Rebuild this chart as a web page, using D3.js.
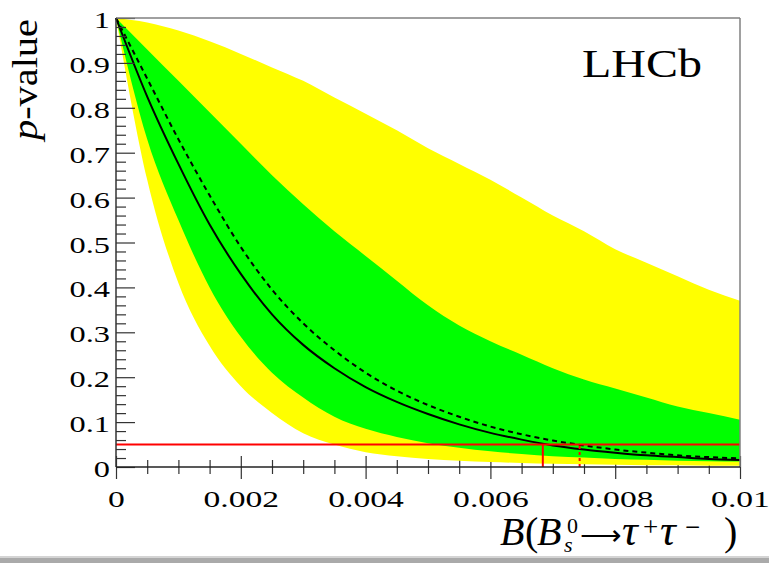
<!DOCTYPE html>
<meta charset="utf-8">
<style>
body {
  margin: 0;
  background: #fff;
}

.tick line {
  stroke: #333;
  stroke-width: 1.2;
}

.ticklabel {
  fill: #000;
  font-family: "Liberation Serif", serif;
  font-size: 24px;
}

.title {
  fill: #000;
  font-family: "Liberation Serif", serif;
}

.band-yellow {
  fill: #ffff00;
  stroke: none;
}

.band-green {
  fill: #00ff00;
  stroke: none;
}

.observed {
  fill: none;
  stroke: #000;
  stroke-width: 2;
}

.expected {
  fill: none;
  stroke: #000;
  stroke-width: 2;
  stroke-dasharray: 5,4;
}

.limit {
  stroke: #ff0000;
  stroke-width: 2;
}
</style>
<body>
  <div id="chart"></div>
</body>
<script src="https://cdn.jsdelivr.net/npm/d3@7"></script>
<script>

// branching fraction scan points
var bValues = [0, 0.0005, 0.001, 0.0015, 0.002, 0.0025, 0.003, 0.0035, 0.004, 0.0045, 0.005,
  0.0055, 0.006, 0.0065, 0.007, 0.0075, 0.008, 0.0085, 0.009, 0.0095, 0.01];

// p-values
var pObserved = [1, 0.825, 0.675, 0.54, 0.43, 0.34, 0.272, 0.22, 0.178, 0.145, 0.118,
  0.095, 0.076, 0.061, 0.048, 0.039, 0.032, 0.026, 0.022, 0.018, 0.0155];
var pExpected = [1, 0.865, 0.73, 0.605, 0.49, 0.395, 0.32, 0.26, 0.21, 0.17, 0.138,
  0.112, 0.09, 0.073, 0.059, 0.048, 0.039, 0.032, 0.026, 0.022, 0.019];
var greenHigh = [1, 0.93, 0.86, 0.79, 0.72, 0.65, 0.585, 0.525, 0.47, 0.415, 0.36,
  0.315, 0.28, 0.25, 0.22, 0.195, 0.175, 0.155, 0.135, 0.12, 0.105];
var greenLow = [1, 0.73, 0.55, 0.4, 0.29, 0.21, 0.155, 0.112, 0.085, 0.067, 0.053,
  0.043, 0.035, 0.029, 0.024, 0.021, 0.018, 0.016, 0.014, 0.013, 0.012];
var yellowHigh = [1, 0.99, 0.972, 0.948, 0.92, 0.89, 0.86, 0.823, 0.787, 0.75, 0.71,
  0.675, 0.64, 0.6, 0.56, 0.525, 0.485, 0.455, 0.425, 0.395, 0.37];
var yellowLow = [1, 0.64, 0.41, 0.27, 0.18, 0.12, 0.075, 0.05, 0.033, 0.024, 0.018,
  0.014, 0.011, 0.009, 0.007, 0.006, 0.005, 0.004, 0.004, 0.003, 0.003];

var clLevel = 0.05,
    obsLimit = 0.00684,
    expLimit = 0.00743;

var xTickValues = [0, 0.002, 0.004, 0.006, 0.008, 0.01];
var xTickLabels = ["0", "0.002", "0.004", "0.006", "0.008", "0.01"];
var yTickValues = [0, 0.1, 0.2, 0.3, 0.4, 0.5, 0.6, 0.7, 0.8, 0.9, 1];
var yTickLabels = ["0", "0.1", "0.2", "0.3", "0.4", "0.5", "0.6", "0.7", "0.8", "0.9", "1"];

var width = 769,
    height = 563;
var plotLeft = 116, plotRight = 740, plotTop = 18, plotBottom = 467;

var svg = d3.select("#chart").append("svg")
    .attr("width", width)
    .attr("height", height);

var x = d3.scaleLinear().domain([0, 0.01]).range([plotLeft, plotRight]);
var y = d3.scaleLinear().domain([0, 1]).range([plotBottom, plotTop]);

var pts = bValues.map(function(b, i) {
  return { b: b, obs: pObserved[i], exp: pExpected[i],
    gl: greenLow[i], gh: greenHigh[i], yl: yellowLow[i], yh: yellowHigh[i] };
});

function minorOf(all, major) {
  return all.filter(function(v) {
    return !major.some(function(m) { return Math.abs(m - v) < 1e-9; });
  });
}

// x ticks first, the bands cover their upper half
var xMinor = minorOf(x.ticks(20), xTickValues);

function xTicks(axis, values, size) {
  svg.append("g")
    .attr("transform", "translate(0," + plotBottom + ")")
    .call(axis(x).tickValues(values).tickSize(size).tickFormat(""))
    .call(function(g) { g.select(".domain").remove(); });
}
xTicks(d3.axisBottom, xTickValues, 12);
xTicks(d3.axisTop, xTickValues, 11);
xTicks(d3.axisBottom, xMinor, 7);
xTicks(d3.axisTop, xMinor, 7);

var curve = d3.curveMonotoneX;

svg.append("path")
  .datum(pts)
  .attr("class", "band-yellow")
  .attr("d", d3.area().curve(curve)
    .x(function(d) { return x(d.b); })
    .y0(function(d) { return y(d.yl); })
    .y1(function(d) { return y(d.yh); }));

svg.append("path")
  .datum(pts)
  .attr("class", "band-green")
  .attr("d", d3.area().curve(curve)
    .x(function(d) { return x(d.b); })
    .y0(function(d) { return y(d.gl); })
    .y1(function(d) { return y(d.gh); }));

svg.append("path")
  .datum(pts)
  .attr("class", "expected")
  .attr("d", d3.line().curve(curve)
    .x(function(d) { return x(d.b); })
    .y(function(d) { return y(d.exp); }));

svg.append("path")
  .datum(pts)
  .attr("class", "observed")
  .attr("d", d3.line().curve(curve)
    .x(function(d) { return x(d.b); })
    .y(function(d) { return y(d.obs); }));

// 95% CL lines
svg.append("line")
  .attr("class", "limit")
  .attr("x1", x(0)).attr("x2", x(0.01))
  .attr("y1", y(clLevel)).attr("y2", y(clLevel));
svg.append("line")
  .attr("class", "limit")
  .attr("x1", x(obsLimit)).attr("x2", x(obsLimit))
  .attr("y1", y(0)).attr("y2", y(clLevel));
svg.append("line")
  .attr("class", "limit")
  .style("stroke-dasharray", "3,3")
  .attr("x1", x(expLimit)).attr("x2", x(expLimit))
  .attr("y1", y(0)).attr("y2", y(clLevel));

// y axis ticks
var yMinor = minorOf(y.ticks(50), yTickValues);
svg.append("g")
  .attr("transform", "translate(" + plotLeft + ",0)")
  .call(d3.axisLeft(y).tickValues(yMinor).tickSize(-10).tickFormat(""))
  .call(function(g) { g.select(".domain").remove(); });

svg.append("g")
  .attr("transform", "translate(" + plotLeft + ",0)")
  .call(d3.axisLeft(y).tickValues(yTickValues).tickSize(-19)
    .tickFormat(function(d, i) { return yTickLabels[i]; }))
  .call(function(g) { g.select(".domain").remove(); })
  .call(function(g) {
    g.selectAll("text")
      .attr("class", "ticklabel")
      .attr("x", 0).attr("dy", null).attr("y", 0)
      .attr("text-anchor", "end")
      .attr("transform", "translate(-6,9.5) scale(1.35,1)");
  })
  .attr("font-family", null).attr("font-size", null);

// x labels
svg.append("g")
  .attr("transform", "translate(0," + plotBottom + ")")
  .call(d3.axisBottom(x).tickValues(xTickValues).tickSize(0)
    .tickFormat(function(d, i) { return xTickLabels[i]; }))
  .call(function(g) { g.select(".domain").remove(); })
  .call(function(g) {
    g.selectAll("text")
      .attr("class", "ticklabel")
      .attr("y", 0).attr("dy", null)
      .attr("text-anchor", "middle")
      .attr("transform", "translate(0,40) scale(1.4,1)");
  })
  .attr("font-family", null).attr("font-size", null);

// frame and axis lines
svg.append("line")
  .attr("x1", plotLeft).attr("x2", plotRight).attr("y1", plotTop).attr("y2", plotTop)
  .attr("stroke", "#808080").attr("stroke-width", 1.5);
svg.append("line")
  .attr("x1", plotRight).attr("x2", plotRight).attr("y1", plotTop).attr("y2", plotBottom)
  .attr("stroke", "#808080").attr("stroke-width", 1.5);
svg.append("line")
  .attr("x1", plotLeft).attr("x2", plotLeft).attr("y1", plotTop).attr("y2", plotBottom)
  .attr("stroke", "#333").attr("stroke-width", 1.5);
svg.append("line")
  .attr("x1", plotLeft).attr("x2", plotRight).attr("y1", plotBottom).attr("y2", plotBottom)
  .attr("stroke", "#222").attr("stroke-width", 1.5);

// stretch a text so it spans a given length
function fitText(sel, tx, ty, rot, len) {
  var w = sel.node().getComputedTextLength();
  sel.attr("transform", "translate(" + tx + "," + ty + ") rotate(" + rot + ") scale(" + (len / w) + ",1)");
}

var lhcb = svg.append("text")
  .attr("class", "title")
  .style("font-size", "40px")
  .text("LHCb");
fitText(lhcb, 582, 77, 0, 120);

var ytitle = svg.append("text")
  .attr("class", "title")
  .style("font-size", "36px");
ytitle.append("tspan").style("font-style", "italic").text("p");
ytitle.append("tspan").text("-value");
fitText(ytitle, 37, 140, -90, 121);

// x title, pieces placed where they sit in the original
var xtitle = svg.append("text")
  .attr("class", "title")
  .attr("y", 545)
  .style("font-size", "40px");
xtitle.append("tspan").attr("x", 500).style("font-style", "italic").text("B");
xtitle.append("tspan").attr("x", 525).text("(");
xtitle.append("tspan").attr("x", 537).style("font-style", "italic").text("B");
xtitle.append("tspan").attr("x", 567).attr("y", 533).style("font-size", "22px").text("0");
xtitle.append("tspan").attr("x", 564).attr("y", 552).style("font-size", "22px")
  .style("font-style", "italic").text("s");
var arrow = xtitle.append("tspan").attr("x", 580).attr("y", 545)
  .style("font-size", "40px").text("\u27f6");
// size the arrow so it spans about 41px
var aw = arrow.node().getComputedTextLength();
arrow.style("font-size", Math.min(60, 40 * 41 / aw) + "px");
xtitle.append("tspan").attr("x", 622).attr("y", 545).style("font-size", "44px")
  .style("font-style", "italic").text("\u03c4");
xtitle.append("tspan").attr("x", 643).attr("y", 536).style("font-size", "27px").text("+");
xtitle.append("tspan").attr("x", 660).attr("y", 545).style("font-size", "44px")
  .style("font-style", "italic").text("\u03c4");
xtitle.append("tspan").attr("x", 685).attr("y", 536).style("font-size", "27px").text("\u2212");
xtitle.append("tspan").attr("x", 724).attr("y", 545).text(")");

// grey strip at the bottom edge
svg.append("rect")
  .attr("x", 0).attr("y", 556).attr("width", width).attr("height", 2)
  .attr("fill", "#d4d4d4");
svg.append("rect")
  .attr("x", 0).attr("y", 558).attr("width", width).attr("height", 5)
  .attr("fill", "#aaaaaa");

</script>
